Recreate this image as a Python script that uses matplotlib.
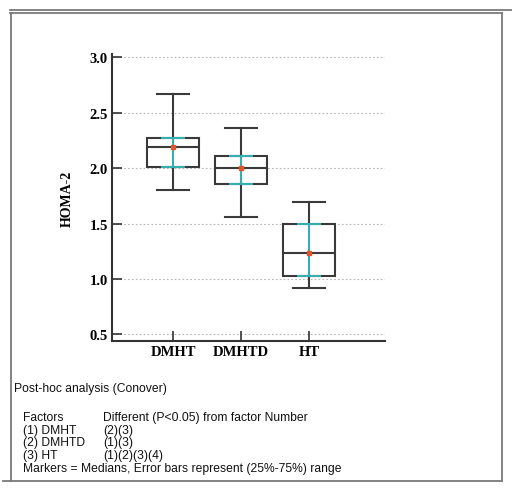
import matplotlib.pyplot as plt
from matplotlib.lines import Line2D

# data
groups = ['DMHT', 'DMHTD', 'HT']
whisker_low = [1.80, 1.56, 0.92]
q1 = [2.01, 1.855, 1.03]
median = [2.19, 2.00, 1.235]
q3 = [2.275, 2.105, 1.50]
whisker_high = [2.665, 2.365, 1.695]
yticks = [0.5, 1.0, 1.5, 2.0, 2.5, 3.0]

posthoc_rows = [('(1) DMHT', '(2)(3)'),
                ('(2) DMHTD', '(1)(3)'),
                ('(3) HT', '(1)(2)(3)(4)')]

W, H = 512, 489
fig = plt.figure(figsize=(W / 100, H / 100), dpi=100)


def fx(px):
    return px / W


def fy(py):
    return 1 - py / H


ax = fig.add_axes([fx(112), fy(342.3), fx(385 - 112), (342.3 - 55) / H])

box_col = '#3a3a3a'
teal = '#35aeb0'
red = '#e0552b'
pos = [1, 2, 3]

stats = []
for i, g in enumerate(groups):
    stats.append({'label': g, 'whislo': whisker_low[i], 'q1': q1[i], 'med': median[i],
                  'q3': q3[i], 'whishi': whisker_high[i], 'fliers': []})

ax.bxp(stats, positions=pos, widths=0.76, showfliers=False, patch_artist=True,
       boxprops=dict(facecolor='none', edgecolor=box_col, linewidth=1.5),
       medianprops=dict(color=box_col, linewidth=1.5),
       whiskerprops=dict(color=box_col, linewidth=1.5),
       capprops=dict(color=box_col, linewidth=1.5), capwidths=0.47)

# 25%-75% error bars and median markers
yerr = [[m - a for m, a in zip(median, q1)], [b - m for m, b in zip(median, q3)]]
ax.errorbar(pos, median, yerr=yerr, fmt='none', ecolor=teal, elinewidth=1.5,
            capsize=8.3, capthick=1.5, zorder=4)
ax.plot(pos, median, 's', color=red, markersize=3.3, zorder=5)

ax.set_xlim(0.10, 4.12)
ax.set_ylim(0.437, 3.03)
ax.set_yticks(yticks)
ax.set_yticklabels([f'{v:.1f}' for v in yticks])
ax.set_xticks(pos)
ax.set_xticklabels(groups)
for v in yticks:
    ax.axhline(v, color='#b5b5b5', linestyle=(0, (1.5, 2)), linewidth=0.8, zorder=0)

for s in ['top', 'right']:
    ax.spines[s].set_visible(False)
for s in ['left', 'bottom']:
    ax.spines[s].set_color('#333333')
    ax.spines[s].set_linewidth(1.5)
ax.tick_params(direction='in', length=7, width=1.2, color='#333333', pad=3)
for lab in ax.get_yticklabels() + ax.get_xticklabels():
    lab.set_fontfamily('Liberation Serif')
    lab.set_fontweight('bold')
    lab.set_fontsize(10.5)
ax.set_ylabel('HOMA-2', fontfamily='Liberation Serif', fontweight='bold', fontsize=10)
ax.yaxis.set_label_coords((74 - 112) / (385 - 112), 0.5)

# frame
frame = '#7a7a7a'
fig.add_artist(Line2D([fx(10), 1], [fy(11), fy(11)], color=frame, lw=1.3))
fig.add_artist(Line2D([fx(10), fx(501.5)], [fy(14), fy(14)], color=frame, lw=1.3))
fig.add_artist(Line2D([fx(10.5), fx(10.5)], [fy(14), fy(482)], color=frame, lw=1.3))
fig.add_artist(Line2D([fx(501.5), fx(501.5)], [fy(14), fy(482)], color=frame, lw=1.3))
fig.add_artist(Line2D([fx(3), fx(501.5)], [fy(482), fy(482)], color=frame, lw=1.3))

# post-hoc text
tkw = dict(fontfamily='Liberation Sans', fontsize=8.7, va='center', color='#111111')
fig.text(fx(14), fy(389), 'Post-hoc analysis (Conover)', **tkw)
fig.text(fx(23), fy(418), 'Factors', **tkw)
fig.text(fx(103), fy(418), 'Different (P<0.05) from factor Number', **tkw)
for i, (a, b) in enumerate(posthoc_rows):
    fig.text(fx(23), fy(430.8 + 12.7 * i), a, **tkw)
    fig.text(fx(103), fy(430.8 + 12.7 * i), b, **tkw)
fig.text(fx(23), fy(469), 'Markers = Medians, Error bars represent (25%-75%) range', **tkw)

fig.savefig('out.png', dpi=100)
